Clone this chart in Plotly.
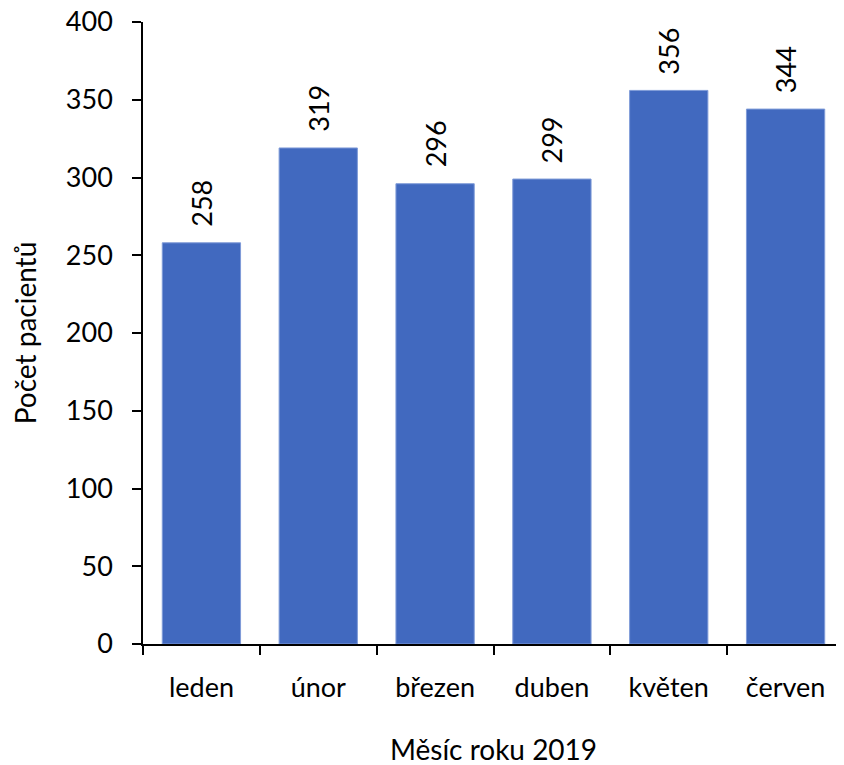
import plotly.graph_objects as go

months = ["leden", "únor", "březen", "duben", "květen", "červen"]
patients = [258, 319, 296, 299, 356, 344]
y_ticks = [0, 50, 100, 150, 200, 250, 300, 350, 400]

font = "Lato, Calibri, 'Open Sans', sans-serif"

fig = go.Figure(go.Bar(
    x=months, y=patients,
    marker=dict(color="#4169BF", line=dict(color="#7F9BD8", width=1)),
    cliponaxis=False,
))

for m, v in zip(months, patients):
    fig.add_annotation(
        x=m, y=v, text=str(v), showarrow=False, textangle=-90,
        xanchor="center", yanchor="bottom", yshift=14,
        font=dict(family=font, size=27, color="black"),
    )

fig.update_layout(
    width=844, height=765,
    margin=dict(l=135, r=8, t=14, b=129),
    plot_bgcolor="white", paper_bgcolor="white",
    bargap=0.33,
    showlegend=False,
    font=dict(family=font, size=27, color="black"),
    xaxis=dict(
        title=dict(text="Měsíc roku 2019", font=dict(size=28), standoff=38),
        automargin=False,
        showline=True, linecolor="black", linewidth=1.5,
        ticks="outside", ticklen=9, tickcolor="black", tickwidth=1.5,
        tickson="boundaries", showgrid=False,
        ticklabelstandoff=19, ticklabeloverflow="allow",
        tickfont=dict(size=27),
    ),
    yaxis=dict(
        title=dict(text="Počet pacientů", font=dict(size=28), standoff=23),
        automargin=False,
        range=[0, 400], tickvals=y_ticks,
        showline=True, linecolor="black", linewidth=1.5,
        ticks="outside", ticklen=9, tickcolor="black", tickwidth=1.5,
        showgrid=False, zeroline=False,
        ticklabelstandoff=14, ticklabeloverflow="allow",
        tickfont=dict(size=27),
    ),
)

fig.write_html("out.html")
